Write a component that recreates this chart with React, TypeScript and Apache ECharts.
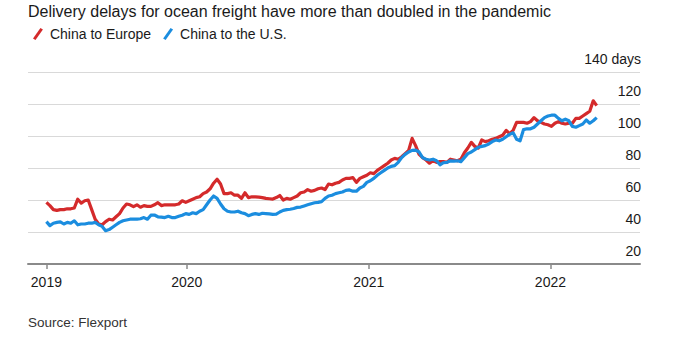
import React, { useEffect, useRef } from "react";
import * as echarts from "echarts";

const TITLE = "Delivery delays for ocean freight have more than doubled in the pandemic";
const SOURCE = "Source: Flexport";
const SERIES_NAMES = ["China to Europe", "China to the U.S."];
const START_DATE = Date.UTC(2019, 2, 25); // first weekly observation
const WEEK_MS = 7 * 24 * 3600 * 1000;
const X_MIN = Date.UTC(2019, 1, 16);
const X_MAX = Date.UTC(2022, 5, 30);
const TICK_DATES = [START_DATE, Date.UTC(2020, 0, 1), Date.UTC(2021, 0, 1), Date.UTC(2022, 0, 1)];
const Y_TICKS = [20, 40, 60, 80, 100, 120, 140];

// Weekly transit time, days
const chinaToEurope = [
  58.5, 56.5, 54, 53.5, 54, 54, 54.5, 54.5, 55, 60.5, 58, 59.5, 60,
  54, 48, 45, 44.5, 46.5, 48, 47.5, 49.5,
  51.5, 55, 57.5, 57, 55.8, 57, 55.5, 56.5, 56, 56, 57, 58.3, 56.5, 57, 57, 57, 57, 57.5, 59.5, 58.5,
  59.5, 60.5, 61.5, 62, 64, 65, 67, 70.5, 73, 70, 64, 64, 64.5, 63, 63, 61, 64.5, 61.5, 62, 62,
  61.8, 61.5, 61, 60.8, 60.6, 61.5, 62.8, 60, 61, 60.5, 61.5, 62.5, 64.5, 65, 66.5, 65.5, 66, 67, 67.5, 66.5, 70, 69.5, 70.5,
  71, 72.5, 73.5, 73.5, 74, 71, 73.5, 74.5, 75.5, 77, 76.5, 78.5, 80, 81.5, 83, 85, 86, 85.5, 87, 89, 91, 98.5, 94, 88.5, 86.5, 85, 83, 84.5, 83.5, 84, 84, 83.5, 85.5, 85, 84.5, 85.5, 89.5,
  92.5, 96, 93.5, 92.5, 97.5, 96.5, 97, 98, 98.5, 99.5, 100.5, 103.5, 101.5, 103.5, 108.5, 108.5, 108.5, 108, 109, 111.5, 109.5, 108.5, 107.5, 107, 106, 108, 109, 108, 107.5, 108, 108, 111, 111, 112.5, 114, 115.5, 122, 119,
];

const chinaToUS = [
  46.5, 44, 45.5, 46, 46.3, 45, 46, 45.5, 47, 44.5, 45, 45, 45.5, 45.5, 46, 44.5, 43.5, 40.8, 41.5, 43, 44.5,
  46, 47, 47.5, 48, 48, 48, 48.3, 49, 48, 50.5, 50.6, 49.5, 49.3, 49, 49.8, 49, 49, 49.8, 50.5, 51.5,
  51, 52, 51.5, 53, 54, 57, 60, 62.5, 61, 57.5, 54.5, 53, 52.5, 52.5, 53, 52, 51.5, 50.2, 51, 51.5, 51, 51.7, 51.5, 51.3, 51, 51.2, 52.5, 53.5, 54, 54.2, 54.7, 55.4, 55.6, 56.3, 57, 57.7, 58.3, 58.5, 59, 61, 62.5, 63, 64,
  64.5, 65, 66, 66.3, 65.5, 65.5, 67.5, 68.5, 71, 72, 73.5, 75.5, 77, 78.5, 80, 81, 81.5, 83.5, 86.5, 88.5, 90, 91, 91.2, 90, 86.5, 85.5, 85, 85.5, 84.5, 82, 83.3, 83.5, 84.5, 84.3, 84.5, 84, 86.5,
  89, 90, 91.5, 93, 93.5, 94, 95, 96.5, 97.5, 97, 98, 99.5, 101, 102, 98, 97, 104, 104.5, 104.5, 105.5, 107.5, 109.5, 111.5, 112.5, 113, 113, 111, 109.5, 110.5, 109.5, 106, 105.5, 106.5, 107.5, 110, 108, 109.5, 111.5,
];

const RED = "#d42a2b";
const BLUE = "#1b8ddf";
const FONT = "'Liberation Sans', Arial, Helvetica, sans-serif";

const toPairs = (vals: number[]) => vals.map((v, i) => [START_DATE + i * WEEK_MS, v]);

export default function App() {
  const ref = useRef<HTMLDivElement>(null);
  useEffect(() => {
    if (!ref.current) return;
    const chart = echarts.init(ref.current, undefined, { renderer: "svg" });
    const slash = "path://M0,10.5 L7.5,0 L10,1.6 L2.5,12.1 Z";
    chart.setOption({
      animation: false,
      backgroundColor: "#ffffff",
      textStyle: { fontFamily: FONT },
      title: {
        text: TITLE,
        left: 28,
        top: 3,
        padding: 0,
        textStyle: { fontSize: 16, fontWeight: "normal", color: "#1a1a1a", fontFamily: FONT },
      },
      legend: {
        left: 33,
        top: 27,
        padding: 0,
        itemWidth: 14,
        itemHeight: 12,
        itemGap: 12,
        selectedMode: false,
        textStyle: { fontSize: 14, color: "#1a1a1a", fontFamily: FONT },
        data: [
          { name: SERIES_NAMES[0], icon: slash, itemStyle: { color: RED } },
          { name: SERIES_NAMES[1], icon: slash, itemStyle: { color: BLUE } },
        ],
      },
      graphic: [
        {
          type: "text",
          left: 28,
          top: 315,
          style: { text: SOURCE, fontSize: 13.5, fill: "#333", fontFamily: FONT },
        },
      ],
      grid: { left: 28, right: 45, top: 72, bottom: 74, containLabel: false },
      xAxis: {
        type: "value",
        min: X_MIN,
        max: X_MAX,
        axisLine: { show: true, lineStyle: { color: "#8a8a8a", width: 2 } },
        axisTick: { show: true, length: 5, lineStyle: { color: "#8a8a8a", width: 1.5 }, customValues: TICK_DATES },
        axisLabel: {
          customValues: TICK_DATES,
          formatter: (v: number) => String(new Date(v).getUTCFullYear()),
          fontSize: 14,
          color: "#1a1a1a",
          margin: 11,
          fontFamily: FONT,
          showMinLabel: true,
          showMaxLabel: true,
        },
        splitLine: { show: false },
      },
      yAxis: {
        type: "value",
        position: "right",
        min: Y_TICKS[0],
        max: Y_TICKS[Y_TICKS.length - 1],
        interval: 20,
        axisLine: { show: false },
        axisTick: { show: false },
        splitLine: { show: true, lineStyle: { color: "#d9d9d9", width: 1 } },
        axisLabel: {
          inside: true,
          margin: -1,
          verticalAlign: "bottom",
          padding: [0, 0, 6, 0],
          lineHeight: 14,
          fontSize: 14,
          color: "#1a1a1a",
          fontFamily: FONT,
          formatter: (v: number) => (v === 140 ? "140 days" : String(v)),
        },
      },
      series: [
        {
          name: SERIES_NAMES[0],
          type: "line",
          data: toPairs(chinaToEurope),
          showSymbol: false,
          lineStyle: { color: RED, width: 3.2, join: "round" },
          itemStyle: { color: RED },
          z: 2,
        },
        {
          name: SERIES_NAMES[1],
          type: "line",
          data: toPairs(chinaToUS),
          showSymbol: false,
          lineStyle: { color: BLUE, width: 3.2, join: "round" },
          itemStyle: { color: BLUE },
          z: 3,
        },
      ],
    });
    return () => chart.dispose();
  }, []);
  return (
    <div
      ref={ref}
      style={{ position: "fixed", left: 0, top: 0, width: 685, height: 338, background: "#fff" }}
    />
  );
}
